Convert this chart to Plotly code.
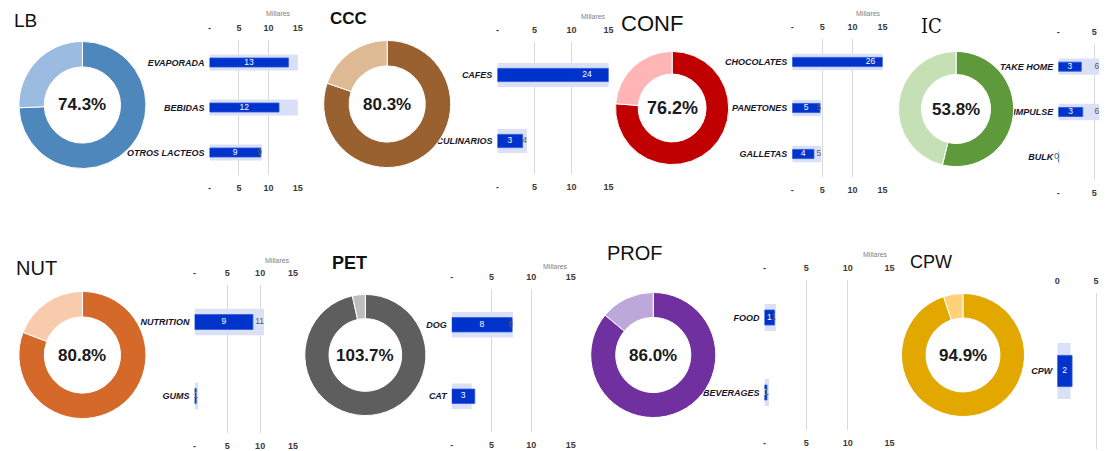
import plotly.graph_objects as go

W, H = 1105, 451

# ---------------- data ----------------
titles = ["LB", "CCC", "CONF", "IC", "NUT", "PET", "PROF", "CPW"]
donut_pct = [74.3, 80.3, 76.2, 53.8, 80.8, 103.7, 86.0, 94.9]
dark_colors = ["#4E87BC", "#99612F", "#C00000", "#5E993C", "#D4692A", "#5E5E5E", "#7030A0", "#E2A800"]
light_colors = ["#9BBBE0", "#DEBA94", "#FFB5B5", "#C5E0B4", "#F8CBAD", "#BDBDBD", "#BDA9D9", "#FFD27A"]

lb_cats = ["EVAPORADA", "BEBIDAS", "OTROS LACTEOS"]
lb_actual = [13.4, 11.8, 8.7]
lb_target = [18.5, 18.2, 8.9]

ccc_cats = ["CAFES", "CULINARIOS"]
ccc_actual = [24.2, 3.4]
ccc_target = [30.5, 4.0]

conf_cats = ["CHOCOLATES", "PANETONES", "GALLETAS"]
conf_actual = [26.0, 4.6, 3.6]
conf_target = [35.4, 4.8, 4.8]

ic_cats = ["TAKE HOME", "IMPULSE", "BULK"]
ic_actual = [3.2, 3.4, 0.05]
ic_target = [5.7, 5.7, 0.1]

nut_cats = ["NUTRITION", "GUMS"]
nut_actual = [8.9, 0.25]
nut_target = [10.6, 0.55]

pet_cats = ["DOG", "CAT"]
pet_actual = [7.6, 2.9]
pet_target = [7.7, 2.5]

prof_cats = ["FOOD", "BEVERAGES"]
prof_actual = [1.2, 0.3]
prof_target = [1.4, 0.55]

cpw_cats = ["CPW"]
cpw_actual = [1.9]
cpw_target = [1.7]

tick_vals = [0, 5, 10, 15]
tick_text = ["-", "5", "10", "15"]
cpw_tick_text = ["0", "5", "10", "15"]
unit_label = "Millares"

panels_data = [
    (lb_cats, lb_actual, lb_target),
    (ccc_cats, ccc_actual, ccc_target),
    (conf_cats, conf_actual, conf_target),
    (ic_cats, ic_actual, ic_target),
    (nut_cats, nut_actual, nut_target),
    (pet_cats, pet_actual, pet_target),
    (prof_cats, prof_actual, prof_target),
    (cpw_cats, cpw_actual, cpw_target),
]

# ---------------- layout geometry (pixels) ----------------
# bar plot areas: x0, x1, xmax, y0, y1
bar_geo = [
    (208, 297, 15, 40, 175),
    (498, 610, 15, 42, 174),
    (795, 886, 15, 39, 177),
    (1063, 1105, 5.8, 44, 180),
    (193, 292, 15, 285, 433),
    (452, 572, 15, 289, 432),
    (767, 893, 15, 280, 430),
    (1062, 1105, 5.5, 293, 449),
]
# donuts: cx, cy, diameter
donut_geo = [
    (80, 105, 128), (387, 104, 128), (674, 108, 114), (960, 109, 116),
    (80, 355, 128), (365, 355, 122), (655, 355, 126), (967, 355, 124),
]
# titles: x, y(center), size, bold, family
title_geo = [
    (9, 21, 19, False, "Liberation Sans"),
    (327, 18, 17, True, "Liberation Sans"),
    (620, 23, 22, False, "Liberation Sans Narrow, Liberation Sans"),
    (923, 26, 20, False, "DejaVu Serif Condensed, Liberation Serif"),
    (11, 268, 20, False, "Liberation Sans"),
    (329, 263, 18, True, "Liberation Sans"),
    (606, 253, 20, False, "Liberation Sans"),
    (912, 262, 18, False, "Liberation Sans"),
]
millares_pos = [(278, 14), (595, 16), (872, 14), None, (277, 260), (557, 266), (879, 254), None]
pct_size = [17, 17, 18, 17, 17, 17, 17, 17]

BAR_DARK = "#0033CC"
BAR_LIGHT = "#DAE1F7"
GRID = "#D9D9D9"

fig = go.Figure()
layout = dict(
    width=W, height=H, margin=dict(l=0, r=0, t=0, b=0),
    paper_bgcolor="white", plot_bgcolor="white",
    showlegend=False, barmode="overlay",
)
annotations = []

cat_font = dict(family="Liberation Sans", size=9, color="#16162A", weight="bold", style="italic")
tick_font = dict(family="Liberation Sans Narrow, Liberation Sans", size=9, color="#3A3A3A", weight="bold")
label_family = "Liberation Sans Narrow, Liberation Sans"

for i, (cats, actual, target) in enumerate(panels_data):
    n = i + 1
    xb = "x" if n == 1 else f"x{n}"
    yb = "y" if n == 1 else f"y{n}"
    xt = f"x{n + 8}"
    x0, x1, xmax, y0, y1 = bar_geo[i]
    xdom = [x0 / W, min(1.0, x1 / W)]
    ydom = [1 - y1 / H, 1 - y0 / H]
    ncat = len(cats)
    light_w = 0.36
    dark_w = 0.2

    fig.add_trace(go.Bar(y=cats, x=target, orientation="h", width=light_w,
                         marker=dict(color=BAR_LIGHT, line=dict(width=0)),
                         xaxis=xb, yaxis=yb, hoverinfo="skip"))
    fig.add_trace(go.Bar(y=cats, x=actual, orientation="h", width=dark_w,
                         marker=dict(color=BAR_DARK, line=dict(color="#2A55D8", width=0.8)),
                         xaxis=xb, yaxis=yb, hoverinfo="skip"))
    # actual labels centred on bars
    fig.add_trace(go.Scatter(y=cats, x=[a / 2 for a in actual], mode="text",
                             text=[f"{a:.0f}" for a in actual],
                             textfont=dict(family=label_family, size=8.5, color="white"),
                             xaxis=xt, yaxis=yb, cliponaxis=False, hoverinfo="skip"))
    # target labels at inside end of target bars
    t_text = [f"{t:.0f}" if (t > a and t <= xmax) else "" for t, a in zip(target, actual)]
    fig.add_trace(go.Scatter(y=cats, x=target, mode="text", text=t_text,
                             textposition="middle left",
                             textfont=dict(family=label_family, size=8.5, color="#595959"),
                             xaxis=xt, yaxis=yb, cliponaxis=False, hoverinfo="skip"))

    ttext = cpw_tick_text if n == 8 else tick_text
    axis_common = dict(range=[0, xmax], tickvals=tick_vals, ticktext=ttext, tickfont=tick_font,
                       zeroline=False, showline=False, ticks="", fixedrange=True)
    layout["xaxis" if n == 1 else f"xaxis{n}"] = dict(
        domain=xdom, anchor=yb, side="bottom", showgrid=True, gridcolor=GRID, gridwidth=1,
        showticklabels=(n != 8), ticklabelstandoff=6, **axis_common)
    layout[f"xaxis{n + 8}"] = dict(
        overlaying=xb, anchor=yb, side="top", showgrid=False, ticklabelstandoff=6, **axis_common)
    layout["yaxis" if n == 1 else f"yaxis{n}"] = dict(
        domain=ydom, anchor=xb, type="category", categoryorder="array", categoryarray=cats,
        range=[ncat - 0.5, -0.5], showgrid=False, zeroline=False, showline=False,
        ticks="", tickfont=cat_font, ticklabelstandoff=4, fixedrange=True)

    # donut
    cx, cy, d = donut_geo[i]
    r = d / 2
    pct = donut_pct[i]
    fig.add_trace(go.Pie(values=[pct, abs(100 - pct)], hole=0.6, sort=False,
                         direction="clockwise", rotation=0,
                         marker=dict(colors=[dark_colors[i], light_colors[i]],
                                     line=dict(color="white", width=1)),
                         textinfo="none", hoverinfo="skip",
                         domain=dict(x=[(cx - r) / W, (cx + r) / W], y=[1 - (cy + r) / H, 1 - (cy - r) / H])))
    annotations.append(dict(x=cx / W, y=1 - cy / H, xref="paper", yref="paper", text=f"{pct:.1f}%",
                            showarrow=False, xanchor="center", yanchor="middle",
                            font=dict(family="Liberation Sans Narrow, Liberation Sans", size=pct_size[i],
                                      color="#1A1A1A", weight="bold")))
    # title
    tx, ty, ts, tb, tf = title_geo[i]
    annotations.append(dict(x=tx / W, y=1 - ty / H, xref="paper", yref="paper", text=titles[i],
                            showarrow=False, xanchor="left", yanchor="middle",
                            font=dict(family=tf, size=ts, color="#111111", weight="bold" if tb else "normal")))
    mp = millares_pos[i]
    if mp is not None:
        annotations.append(dict(x=mp[0] / W, y=1 - mp[1] / H, xref="paper", yref="paper", text=unit_label,
                                showarrow=False, xanchor="center", yanchor="middle",
                                font=dict(family="Liberation Sans", size=7, color="#7F7F7F")))

layout["annotations"] = annotations
fig.update_layout(**layout)
fig.write_html("out.html")
